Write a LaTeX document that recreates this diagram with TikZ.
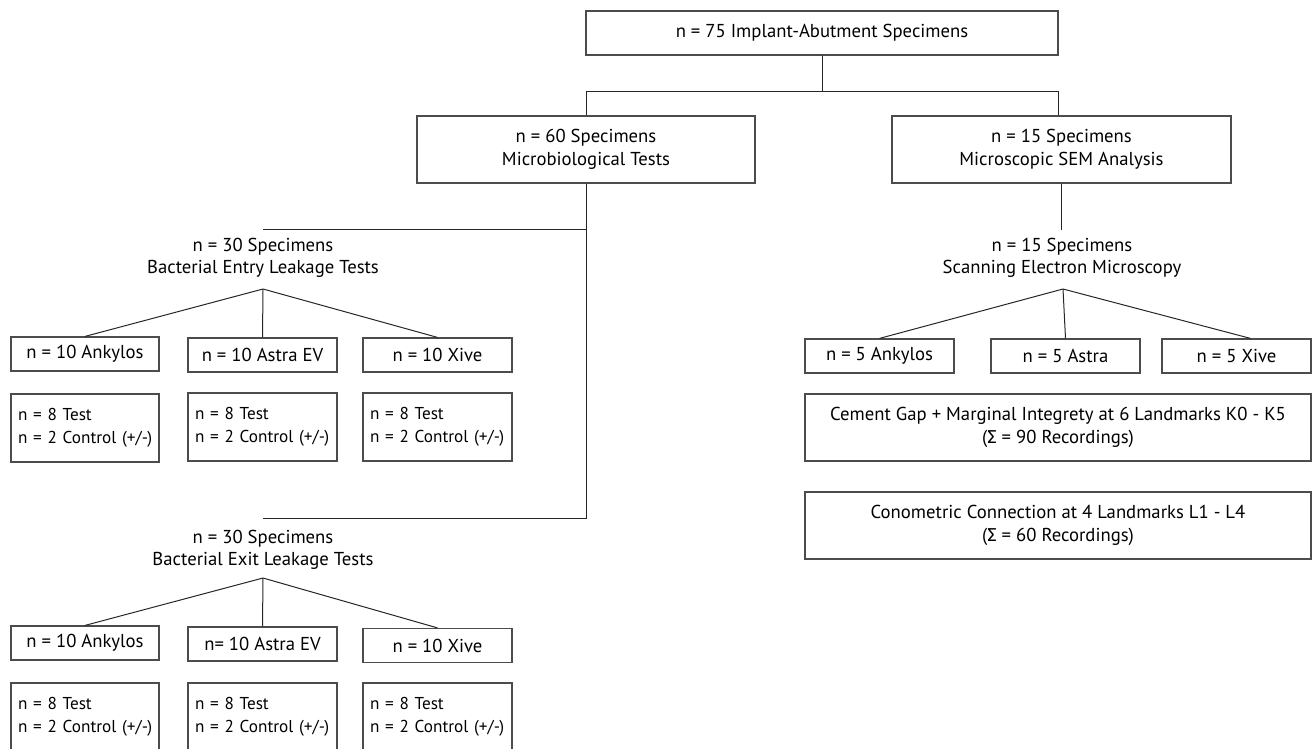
\documentclass[tikz,border=0pt]{standalone}
\usepackage{fontspec}
\setmainfont{PT Sans}
\newfontfamily\sigfont{Fira Sans}
\newfontfamily\tightfont{PT Sans}[WordSpace=0.7]
\usetikzlibrary{calc}
\newcommand{\sig}{{\sigfont Σ}}
\newcommand{\twolines}[2]{\mbox{#1}\\\mbox{#2}}
\begin{document}
\begin{tikzpicture}[x=1pt,y=-1pt,
  every node/.style={font=\fontsize{18.7}{22.5}\selectfont},
  box/.style={draw=black!70, line width=1.2pt, inner sep=0pt, align=center},
  sbox/.style={box, minimum width=148pt, minimum height=34pt},
  tbox/.style={draw=black!70, line width=1.2pt, text width=134pt, inner xsep=7pt, inner ysep=0pt, align=left, minimum height=68pt,
    font=\tightfont\fontsize{17.2}{23.5}\selectfont},
  lbl/.style={align=center, inner sep=0pt},
  conn/.style={draw=black!85, line width=1pt}]
\useasboundingbox (0,0) rectangle (1313,748);
% top level
\node[box, minimum width=472pt, minimum height=44pt] (top) at (822,33) {n = 75 Implant-Abutment Specimens};
\node[box, minimum width=338pt, minimum height=67pt] (m60) at (586,149.5) {n = 60 Specimens\\Microbiological Tests};
\node[box, minimum width=339pt, minimum height=67pt] (m15) at (1061.5,149.5) {n = 15 Specimens\\Microscopic SEM Analysis};
\coordinate (busL) at (586,91);
\coordinate (busR) at (1058,91);
\draw[conn] (top.south) -- (top.south |- busL);
\draw[conn] (m60.north) -- (busL) -- (busR) -- (busR |- m15.north);
% entry
\node[lbl] (entry) at (263,258) {n = 30 Specimens\\Bacterial Entry Leakage Tests};
\coordinate (e1) at (263,229);
\coordinate (x1) at (263,518);
\draw[conn] (m60.south) -- (m60.south |- x1) -- (x1);
\draw[conn] (m60.south |- e1) -- (e1);
\coordinate (eapex) at (263,289);
\node[sbox] (ank1) at (85,354) {n = 10 Ankylos};
\node[sbox, minimum width=149pt] (ast1) at (262.5,355) {n = 10 Astra EV};
\node[sbox, minimum width=149pt] (xiv1) at (437.5,355) {n = 10 Xive};
\draw[conn] (eapex) -- (ank1.north);
\draw[conn] (eapex) -- (ast1.north);
\draw[conn] (eapex) -- (xiv1.north);
\node[tbox] (t1a) at (85,428) {\twolines{n = 8 Test}{n = 2 Control (+/-)}};
\node[tbox, text width=135pt] (t1b) at (262.5,427) {\twolines{n = 8 Test}{n = 2 Control (+/-)}};
\node[tbox, text width=135pt] (t1c) at (437.5,427) {\twolines{n = 8 Test}{n = 2 Control (+/-)}};
% exit
\node[lbl] (exit) at (263,550) {n = 30 Specimens\\Bacterial Exit Leakage Tests};
\coordinate (xapex) at (263,578);
\node[sbox] (ank2) at (85,643) {n = 10 Ankylos};
\node[sbox, minimum width=149pt] (ast2) at (262.5,644) {n= 10 Astra EV};
\node[sbox, minimum width=149pt] (xiv2) at (437.5,645.5) {n = 10 Xive};
\draw[conn] (xapex) -- (ank2.north);
\draw[conn] (xapex) -- (ast2.north);
\draw[conn] (xapex) -- (xiv2.north);
\node[tbox] (t2a) at (85,717) {\twolines{n = 8 Test}{n = 2 Control (+/-)}};
\node[tbox, text width=135pt] (t2b) at (262.5,717) {\twolines{n = 8 Test}{n = 2 Control (+/-)}};
\node[tbox, text width=135pt] (t2c) at (437.5,717) {\twolines{n = 8 Test}{n = 2 Control (+/-)}};
% SEM
\node[lbl] (sem) at (1062,258) {n = 15 Specimens\\Scanning Electron Microscopy};
\draw[conn] (m15.south) -- ++(0,46);
\coordinate (sapex) at (1063,289);
\node[sbox, minimum width=149pt] (a5) at (879.5,356) {n = 5 Ankylos};
\node[sbox, minimum width=149pt] (s5) at (1065.5,356) {n = 5 Astra};
\node[sbox, minimum width=149pt] (x5) at (1236.5,356) {n = 5 Xive};
\draw[conn] (sapex) -- (a5.north);
\draw[conn] (sapex) -- (s5.north);
\draw[conn] (sapex) -- ($(x5.north)+(14,0)$);
\node[box, minimum width=506pt, minimum height=67pt] (cem) at (1058,427.5) {Cement Gap + Marginal Integrety at 6 Landmarks K0 - K5\\(\sig{} = 90 Recordings)};
\node[box, minimum width=506pt, minimum height=67pt] (con) at (1058,525.5) {Conometric Connection at 4 Landmarks L1 - L4\\(\sig{} = 60 Recordings)};
\end{tikzpicture}
\end{document}
